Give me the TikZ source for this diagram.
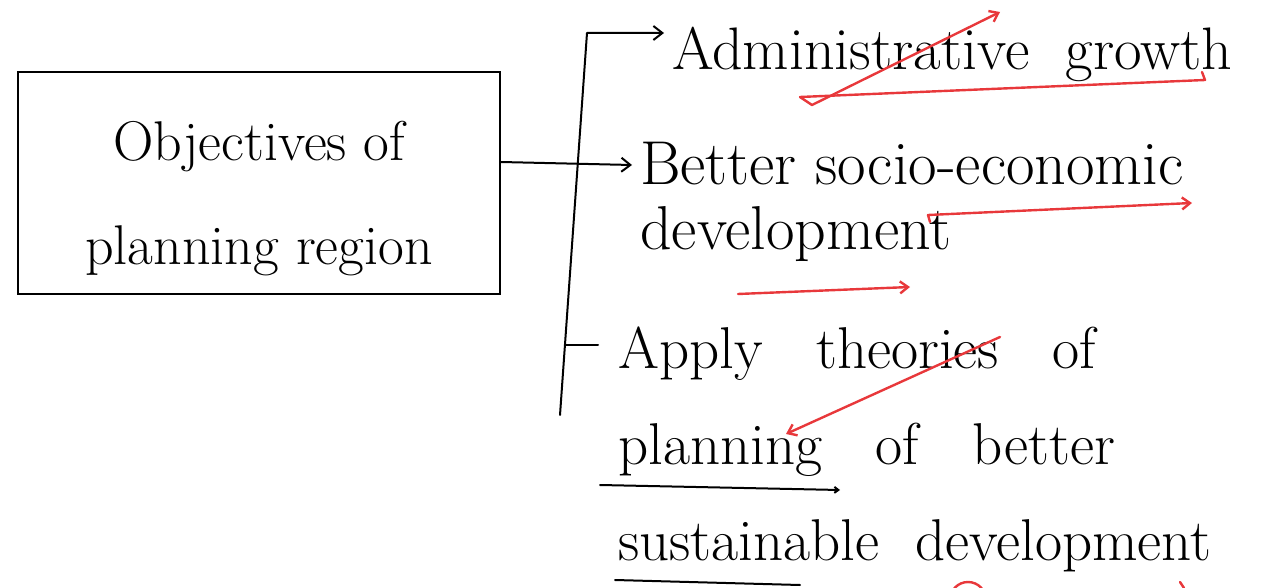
\documentclass[tikz,border=0pt]{standalone}
\usetikzlibrary{arrows.meta}
\definecolor{pen}{HTML}{E8383B}

\begin{document}
\begin{tikzpicture}[x=1pt, y=-1pt,
  goal/.style   = {draw, line width=2pt, minimum width=482pt, minimum height=222pt,
                   inner sep=0pt, align=center, font=\fontsize{56}{104}\selectfont},
  item/.style   = {anchor=base west, inner sep=0pt, align=left},
  ink/.style    = {line width=2pt, line cap=round, line join=round},
  arrow/.style  = {ink, -{Straight Barb[length=9pt,width=14pt]}},
  redpen/.style = {line width=2.4pt, pen, line cap=round, line join=round},
  redtip/.style = {redpen, -{Straight Barb[length=8pt,width=12pt]}},
]
  \useasboundingbox (0,0) rectangle (1264,588);

  \node[goal] (goal) at (259,183) {\rule{0pt}{70pt}Objectives of\\planning region};

  % multi-line items sit on the baseline of their last line
  \node[item, font=\fontsize{60}{66}\selectfont] (admin) at (672,70) {Administrative \ growth};
  \node[item, font=\fontsize{62}{66}\selectfont] (better) at (640,250) {Better socio-economic\\development};
  \node[item, font=\fontsize{59}{96}\selectfont] (apply) at (618,560)
    {Apply \ \ theories \ \ of\\planning \ \ of \ \ better\\sustainable \ development};

  % bracket
  \coordinate (brtop) at (587,33);
  \coordinate (brbot) at (560,415);
  \coordinate (brtick) at (566,345);

  \draw[arrow, shorten >=8pt] (brbot) -- (brtop) -- (brtop -| admin.west);
  \draw[arrow] ([yshift=21pt]goal.east) -- ([xshift=-8pt,yshift=85pt]better.base west);
  \draw[ink] (brtick) -- ([xshift=-20pt,yshift=215pt]apply.base west);

  % underlines
  \draw[ink, -{Straight Barb[length=4pt,width=6pt]}] (600,485) -- (840,490);
  \draw[ink] (615,580) -- (800,585);

  % red pen marks
  \draw[redtip] (800,97) -- (812,105) -- (1000,12);
  \draw[redpen] (800,97) -- (1205,80) -- (1202,72);
  \draw[redtip] (930,222) -- (928,215) -- (1192,203);
  \draw[redtip] (738,294) -- (910,287);
  \draw[redtip] (1000,337) -- (786,434);
  \draw[redpen] (968,600) circle (18pt);
  \draw[redpen] (1180,582) -- (1184,588);
\end{tikzpicture}
\end{document}
